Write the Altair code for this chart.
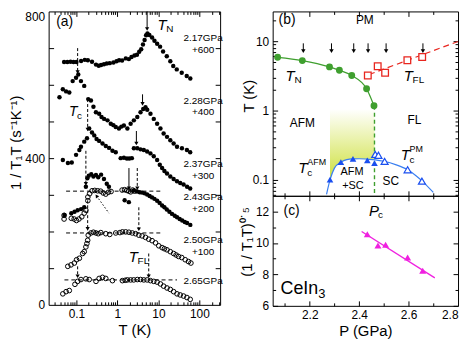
import altair as alt
import pandas as pd

FONT = "Liberation Sans"
GREEN = "#3f9f2f"
RED = "#e8261f"
BLUE = "#1a4ff0"
BLUE_LINE = "#3a7ff0"
MAGENTA = "#f020e0"

# ---------------- panel (a): 1/T1T vs T (offsets included) ----------------
T_217 = [0.05, 0.06, 0.072, 0.085, 0.1, 0.13, 0.16, 0.19, 0.24, 0.3, 0.35, 0.4, 0.47, 0.55, 0.65,
         0.8, 0.95, 1.1, 1.3, 1.6, 1.9, 2.2, 2.6, 3.0, 3.4, 3.8, 4.2, 4.6, 5.0, 5.4,
         6.0, 7.0, 8.0, 9.3, 11, 13, 16, 19.5, 23, 28, 37, 49, 60]
V_217 = [662, 662, 663, 662, 662, 665, 668, 667, 663, 655, 652, 654, 656, 658, 659,
         661, 664, 667, 666, 672, 670, 676, 680, 682, 690, 697, 710, 722, 735, 740,
         736, 729, 720, 712, 704, 691, 678, 664, 651, 642, 633, 624, 617]
T_228 = [0.0386, 0.0466, 0.056, 0.067, 0.081, 0.098, 0.111, 0.129, 0.155, 0.194, 0.226, 0.26, 0.299,
         0.358, 0.41, 0.474, 0.573, 0.689, 0.8, 0.91, 1.09, 1.25, 1.44, 1.75, 2.1, 2.52, 3.05,
         3.66, 4.26, 4.84, 5.33, 6.4, 7.7, 9.3, 11.2, 13.4, 16.2, 19.5, 23.5, 28.4, 37.5, 49.5, 59.6]
V_228 = [566, 588, 582, 579, 610, 619, 628, 610, 597, 561, 557, 540, 525,
         521, 512, 507, 503, 494, 490, 485, 481, 486, 489, 481, 494, 503, 512,
         525, 534, 539, 532, 521, 507, 494, 481, 467, 458, 449, 440, 431, 427, 422, 416]
T_237 = [0.0466, 0.062, 0.077, 0.098, 0.118, 0.129, 0.155, 0.181, 0.205, 0.24, 0.272, 0.31, 0.358,
         0.433, 0.52, 0.626, 0.757, 0.91, 1.2, 1.44, 1.7, 1.95, 2.25, 2.52, 3.05, 3.66, 4.4, 5.3,
         6.4, 7.7, 9.3, 10.8, 12.3, 14, 16.2, 19.5, 23.5, 28.4, 34, 41, 50, 59.6]
V_237 = [395, 387, 388, 409, 422, 431, 445, 454, 481, 470, 462, 452, 447,
         440, 433, 428, 420, 416, 400, 401, 399, 399, 400, 427, 427, 424, 422, 418,
         413, 405, 395, 382, 373, 365, 358, 350, 343, 337, 332, 328, 322, 317]
T_243F = [0.051, 0.075, 0.09, 0.107, 0.13, 0.155, 0.17, 0.185, 0.2, 0.23, 0.26, 0.3, 0.34, 0.4,
          0.47, 0.55, 0.62, 1.5, 1.9, 2.5, 3.0, 3.5, 4.0, 4.6, 5.3, 6.1, 7.0, 8.0, 9.3, 10.7,
          12.3, 14, 16, 18.5, 21.5, 25, 28.5, 33, 38, 44, 50, 60]
V_243F = [245, 250, 254, 258, 261, 266, 322, 345, 352, 356, 350, 354, 348, 355,
          343, 330, 322, 285, 280, 312, 309, 307, 306, 304, 301, 297, 293, 289, 284, 278,
          271, 266, 260, 254, 248, 243, 239, 234, 230, 226, 223, 218]
T_243O = [0.05, 0.05, 0.075, 0.088, 0.1, 0.115, 0.135, 0.155, 0.17, 0.19, 0.19, 0.21, 0.24, 0.28,
          0.33, 0.39, 0.45, 0.52, 0.6, 0.7, 1.3, 1.5, 1.7, 1.9, 2.1, 2.35, 2.6]
V_243O = [234, 244, 236, 234, 230, 234, 240, 250, 258, 284, 294, 303, 311, 312,
          311, 310, 305, 302, 307, 309, 313, 314, 312, 310, 308, 313, 310]
T_250 = [0.0616, 0.0738, 0.089, 0.101, 0.118, 0.142, 0.155, 0.17, 0.18, 0.188, 0.194, 0.226, 0.26,
         0.3, 0.34, 0.394, 0.52, 0.65, 0.91, 1.15, 1.32, 1.59, 1.91, 2.3, 2.77, 3.33, 4.0, 4.84,
         5.8, 7.0, 8.5, 10.2, 12.3, 14, 16.2, 19.5, 23.5, 27, 31, 37, 45, 54, 62]
V_250 = [105, 109, 114, 123, 127, 140, 145, 158, 167, 176, 190, 196, 198,
         196, 194, 197, 194, 192, 196, 197, 199, 199, 198, 196, 194, 190, 188, 184,
         179, 175, 169, 161, 156, 153, 150, 145, 140, 136, 132, 129, 123, 118, 114]
T_265 = [0.0466, 0.056, 0.067, 0.092, 0.107, 0.129, 0.17, 0.205, 0.3, 0.358, 0.433, 0.52, 0.757,
         1.32, 1.55, 1.75, 2.1, 2.5, 3.05, 3.66, 4.4, 5.3, 6.4, 7.7, 9.3, 11.2, 13.4, 16.2,
         19.5, 23.5, 28.4, 34, 41, 49.5, 59.6]
V_265 = [30, 36, 39, 56, 64, 69, 71, 69, 64, 72, 75, 72, 66,
         66, 67, 68, 68, 68, 69, 69, 68, 68, 66, 64, 62, 57, 51, 46,
         42, 36, 30, 27, 24, 20, 15]

HL_T1 = [0.056, 0.056, 0.051]
HL_T2 = [11.2, 11.2, 28.4]
HL_V = [310, 196, 68]
AS_T = [5.3, 4.1, 2.9, 1.91]
AS_V1 = [800, 574, 474, 373]
AS_V2 = [752, 548, 440, 318]
AD_T = [3.05, 3.33, 5.8, 0.107, 0.188, 0.17, 0.188, 0.107]
AD_V1 = [373, 266, 140, 700, 561, 420, 285, 105]
AD_V2 = [318, 206, 78, 635, 478, 330, 207, 78]
DOT_T = [0.62, 0.31]
DOT_V = [250, 297]

GPA_LABELS = ["2.17GPa", "+600", "2.28GPa", "+400", "2.37GPa", "+300",
              "2.43GPa", "+200", "2.50GPa", "+100", "2.65GPa"]
GPA_V = [728, 695, 556, 526, 383, 351, 293, 261, 177, 145, 64]
GPA_T = 123

# ---------------- panel (b): phase diagram ----------------
TN_P = [2.07, 2.17, 2.28, 2.32, 2.37, 2.43, 2.46]
TN_T = [5.85, 5.25, 4.25, 3.8, 3.2, 2.06, 1.17]
TFL_P = [2.435, 2.475, 2.505, 2.595, 2.655]
TFL_T = [3.2, 4.35, 3.5, 5.3, 5.9]
TFL_FIT_P = [2.44, 2.80]
TFL_FIT_T = [3.3, 9.9]
TCA_P = [2.282, 2.326, 2.375, 2.433, 2.462]
TCA_T = [0.101, 0.181, 0.201, 0.191, 0.175]
TCP_P = [2.465, 2.478, 2.503, 2.596, 2.654]
TCP_T = [0.233, 0.226, 0.185, 0.140, 0.096]
DOME_P = [2.268, 2.282, 2.30, 2.326, 2.35, 2.375, 2.40, 2.433, 2.465, 2.50, 2.55, 2.596, 2.63, 2.654, 2.70]
DOME_T = [0.062, 0.10, 0.148, 0.18, 0.196, 0.201, 0.202, 0.199, 0.195, 0.186, 0.165, 0.14, 0.115, 0.097, 0.066]
SHADE_P = [2.282, 2.30, 2.326, 2.35, 2.375, 2.40, 2.433, 2.462]
SHADE_LO = [0.10, 0.148, 0.18, 0.196, 0.201, 0.202, 0.199, 0.196]
SHADE_HI = [1.05, 1.05, 1.05, 1.05, 1.05, 1.05, 1.05, 1.05]
PC = [2.462]
ARROW_P = [2.174, 2.288, 2.378, 2.436, 2.509, 2.658]
ARROW_T1 = [9.3, 9.3, 9.3, 9.3, 9.3, 9.3]
ARROW_T2 = [7.2, 7.2, 7.2, 7.2, 7.2, 7.2]

# ---------------- panel (c) ----------------
C_P = [2.433, 2.476, 2.507, 2.596, 2.657]
C_V = [10.56, 9.84, 9.89, 9.08, 8.23]
C_FIT_P = [2.41, 2.706]
C_FIT_V = [10.73, 7.78]

# tick values
A_XLAB = [0.1, 1, 10, 100]
A_XMIN = [0.03, 0.04, 0.05, 0.06, 0.07, 0.08, 0.09, 0.2, 0.3, 0.4, 0.5, 0.6, 0.7, 0.8, 0.9,
          2, 3, 4, 5, 6, 7, 8, 9, 20, 30, 40, 50, 60, 70, 80, 90, 200, 300]
A_YLAB = [0, 400, 800]
A_YT = [100, 200, 300, 400, 500, 600, 700]
B_YLAB = [0.1, 1, 10]
B_YMIN = [0.06, 0.07, 0.08, 0.09, 0.2, 0.3, 0.4, 0.5, 0.6, 0.7, 0.8, 0.9,
          2, 3, 4, 5, 6, 7, 8, 9, 20]
P_LAB = [2.2, 2.4, 2.6, 2.8]
P_MAJ = [2.2, 2.4, 2.6]
P_MIN = [2.1, 2.3, 2.5, 2.7]
C_YLAB = [6, 8, 10, 12]
C_YMIN = [7, 9, 11]

WA, HA = 173, 296
WB, HB, HC = 187, 186, 111

XA = alt.Scale(type="log", domain=[0.021, 320], nice=False)
YA = alt.Scale(domain=[0, 800], nice=False, zero=False)
XP = alt.Scale(domain=[2.05, 2.8], nice=False, zero=False)
YB = alt.Scale(type="log", domain=[0.059, 26.8], nice=False)
YC = alt.Scale(domain=[6, 13], nice=False, zero=False)


def xy(xs, ys):
    return dict(x=alt.X("x:Q", scale=xs, axis=None), y=alt.Y("y:Q", scale=ys, axis=None))


def points(x, y, xs, ys, **kw):
    return alt.Chart(pd.DataFrame({"x": x, "y": y})).mark_point(opacity=1, **kw).encode(**xy(xs, ys))


def line(x, y, xs, ys, **kw):
    return alt.Chart(pd.DataFrame({"x": x, "y": y})).mark_line(**kw).encode(**xy(xs, ys))


def vrules(x, y1, y2, xs, ys, **kw):
    df = pd.DataFrame({"x": x, "y": y1, "y2": y2})
    return alt.Chart(df).mark_rule(**kw).encode(y2="y2:Q", **xy(xs, ys))


def hrules(x1, x2, y, xs, ys, **kw):
    df = pd.DataFrame({"x": x1, "x2": x2, "y": y})
    return alt.Chart(df).mark_rule(**kw).encode(x2="x2:Q", **xy(xs, ys))


def txt(x, y, s, xs, ys, size=12, style="normal", align="center", dx=0, dy=0, color="black"):
    df = pd.DataFrame({"x": [x], "y": [y], "t": [s]})
    return alt.Chart(df).mark_text(font=FONT, fontSize=size, fontStyle=style, align=align,
                                   baseline="middle", dx=dx, dy=dy, color=color).encode(
        text="t:N", **xy(xs, ys))


def lab_axis(orient, values, fmt, title=None, **kw):
    return alt.Axis(orient=orient, values=values, format=fmt, ticks=False, domain=False, grid=False,
                    labelFont=FONT, labelFontSize=12, labelColor="black", labelPadding=4,
                    title=title, titleFont=FONT, titleFontSize=15, titleFontWeight="normal",
                    titleColor="black", titleBaseline="middle", **kw)


def tick_axis(orient, values, size):
    return alt.Axis(orient=orient, values=values, labels=False, domain=False, grid=False,
                    tickSize=alt.ExprRef(expr=str(-size)), tickColor="black", tickWidth=1,
                    title=None)


def axis_layers(xs, ys, x0, y0, xaxes, yaxes):
    n = max(len(xaxes), len(yaxes))
    xaxes = xaxes + [None] * (n - len(xaxes))
    yaxes = yaxes + [None] * (n - len(yaxes))
    out = []
    for xa, ya in zip(xaxes, yaxes):
        df = pd.DataFrame({"x": [x0], "y": [y0]})
        out.append(alt.Chart(df).mark_point(opacity=0).encode(
            x=alt.X("x:Q", scale=xs, axis=xa), y=alt.Y("y:Q", scale=ys, axis=ya)))
    return out


# ---------------- build (a) ----------------
a_layers = axis_layers(
    XA, YA, 1, 100,
    [lab_axis("bottom", A_XLAB, "~g", "T (K)", titleY=25),
     tick_axis("bottom", A_XLAB, 5), tick_axis("bottom", A_XMIN, 3),
     tick_axis("top", A_XLAB, 5), tick_axis("top", A_XMIN, 3)],
    [lab_axis("left", A_YLAB, "d", "1 / T\u2081T (s\u207b\u00b9K\u207b\u00b9)", titleX=-33, titleY=132,
              labelBaseline={"condition": {"test": "datum.value == 800", "value": "top"}, "value": "middle"}),
     tick_axis("left", A_YT, 5), tick_axis("right", A_YT, 5)],
)
a_layers += [
    hrules(HL_T1, HL_T2, HL_V, XA, YA, color="black", strokeWidth=1, strokeDash=[4, 3]),
    vrules(AS_T, AS_V1, AS_V2, XA, YA, color="black", strokeWidth=1),
    vrules(AD_T, AD_V1, AD_V2, XA, YA, color="black", strokeWidth=1, strokeDash=[3, 2]),
    points(AS_T + AD_T, AS_V2 + AD_V2, XA, YA, shape="triangle-down", filled=True, size=18, color="black"),
    line(DOT_T, DOT_V, XA, YA, color="black", strokeWidth=1, strokeDash=[1.5, 2]),
    points(DOT_T[1:], DOT_V[1:], XA, YA, shape="triangle-up", angle=325, filled=True, size=16, color="black"),
    points(T_217, V_217, XA, YA, shape="circle", filled=True, size=20, color="black"),
    points(T_228, V_228, XA, YA, shape="circle", filled=True, size=20, color="black"),
    points(T_237, V_237, XA, YA, shape="circle", filled=True, size=20, color="black"),
    points(T_243F, V_243F, XA, YA, shape="circle", filled=True, size=20, color="black"),
    points(T_243O, V_243O, XA, YA, shape="circle", filled=False, size=22, color="black", strokeWidth=1),
    points(T_250, V_250, XA, YA, shape="circle", filled=False, size=22, color="black", strokeWidth=1),
    points(T_265, V_265, XA, YA, shape="circle", filled=False, size=22, color="black", strokeWidth=1),
    txt(0.032, 771, "(a)", XA, YA, size=14, align="left"),
    txt(9.46, 762, "T", XA, YA, size=15, style="italic", align="left"),
    txt(9.46, 762, "N", XA, YA, size=10, align="left", dx=9, dy=4),
    txt(0.0662, 526, "T", XA, YA, size=14, style="italic", align="left"),
    txt(0.0662, 526, "c", XA, YA, size=10, align="left", dx=8, dy=4),
    txt(1.88, 129, "T", XA, YA, size=15, style="italic", align="left"),
    txt(1.88, 129, "FL", XA, YA, size=10, align="left", dx=9, dy=4),
]
for lab, v in zip(GPA_LABELS, GPA_V):
    a_layers.append(txt(GPA_T, v, lab, XA, YA, size=10))

A = alt.layer(*a_layers).properties(width=WA, height=HA).resolve_axis(x="independent", y="independent")

# ---------------- build (b) ----------------
grad = alt.LinearGradient(gradient="linear", x1=0, x2=0, y1=0, y2=1,
                          stops=[alt.GradientStop(color="#ffffff", offset=0),
                                 alt.GradientStop(color="#cde03a", offset=1)])
b_layers = axis_layers(
    XP, YB, 2.5, 1,
    [tick_axis("bottom", P_MAJ, 5), tick_axis("bottom", P_MIN, 3),
     tick_axis("top", P_MAJ, 5), tick_axis("top", P_MIN, 3)],
    [lab_axis("left", B_YLAB, "~g", "T (K)", titleX=-24, titleY=85),
     tick_axis("left", B_YLAB, 5), tick_axis("left", B_YMIN, 3),
     tick_axis("right", B_YLAB, 5), tick_axis("right", B_YMIN, 3)],
)
shade_df = pd.DataFrame({"x": SHADE_P, "y": SHADE_LO, "y2": SHADE_HI})
b_layers += [
    alt.Chart(shade_df).mark_area(interpolate="monotone", color=grad, opacity=1).encode(
        y2="y2:Q", **xy(XP, YB)),
    line(DOME_P, DOME_T, XP, YB, color=BLUE_LINE, strokeWidth=1.2, interpolate="monotone"),
    line(TN_P, TN_T, XP, YB, color=GREEN, strokeWidth=1.3, interpolate="monotone"),
    vrules(PC, TN_T[-1:], [0.059], XP, YB, color=GREEN, strokeWidth=1.4, strokeDash=[4, 3]),
    line(TFL_FIT_P, TFL_FIT_T, XP, YB, color=RED, strokeWidth=1.2, strokeDash=[6, 4]),
    points(TN_P, TN_T, XP, YB, shape="circle", filled=True, size=48, color=GREEN),
    points(TFL_P, TFL_T, XP, YB, shape="square", filled=True, fill="white", stroke=RED,
           strokeWidth=1.3, size=45),
    points(TCA_P, TCA_T, XP, YB, shape="triangle-up", filled=True, size=45, color=BLUE),
    points(TCP_P, TCP_T, XP, YB, shape="triangle-up", filled=True, fill="white", stroke=BLUE,
           strokeWidth=1.2, size=50),
    vrules(ARROW_P, ARROW_T1, ARROW_T2, XP, YB, color="black", strokeWidth=1),
    points(ARROW_P, ARROW_T2, XP, YB, shape="triangle-down", filled=True, size=20, color="black"),
    txt(2.074, 20, "(b)", XP, YB, size=14, align="left"),
    txt(2.423, 20, "PM", XP, YB, size=12),
    txt(2.102, 3.16, "T", XP, YB, size=15, style="italic", align="left"),
    txt(2.102, 3.16, "N", XP, YB, size=10, align="left", dx=9, dy=4),
    txt(2.580, 3.16, "T", XP, YB, size=15, style="italic", align="left"),
    txt(2.580, 3.16, "FL", XP, YB, size=10, align="left", dx=9, dy=4),
    txt(2.170, 0.65, "AFM", XP, YB, size=12),
    txt(2.624, 0.74, "FL", XP, YB, size=12),
    txt(2.154, 0.148, "T", XP, YB, size=15, style="italic", align="left"),
    txt(2.154, 0.148, "c", XP, YB, size=10, align="left", dx=9, dy=5),
    txt(2.154, 0.148, "AFM", XP, YB, size=9, align="left", dx=9, dy=-6),
    txt(2.568, 0.227, "T", XP, YB, size=15, style="italic", align="left"),
    txt(2.568, 0.227, "c", XP, YB, size=10, align="left", dx=9, dy=5),
    txt(2.568, 0.227, "PM", XP, YB, size=9, align="left", dx=9, dy=-6),
    txt(2.371, 0.13, "AFM", XP, YB, size=11),
    txt(2.375, 0.083, "+SC", XP, YB, size=11),
    txt(2.528, 0.0968, "SC", XP, YB, size=12),
]
B = alt.layer(*b_layers).properties(width=WB, height=HB).resolve_axis(x="independent", y="independent")

# ---------------- build (c) ----------------
c_layers = axis_layers(
    XP, YC, 2.5, 10,
    [lab_axis("bottom", P_LAB, ".1f", "P (GPa)", titleY=25),
     tick_axis("bottom", P_MAJ, 5), tick_axis("bottom", P_MIN, 3),
     tick_axis("top", P_MAJ, 5), tick_axis("top", P_MIN, 3)],
    [lab_axis("left", C_YLAB, "d", "(1 / T\u2081T)\u2070\u02d9\u2075", titleX=-26, titleY=46),
     tick_axis("left", C_YLAB, 5), tick_axis("left", C_YMIN, 3),
     tick_axis("right", C_YLAB, 5), tick_axis("right", C_YMIN, 3)],
)
c_layers += [
    line(C_FIT_P, C_FIT_V, XP, YC, color=MAGENTA, strokeWidth=1.3),
    points(C_P, C_V, XP, YC, shape="triangle-up", filled=True, size=50, color=MAGENTA),
    txt(2.094, 12, "(c)", XP, YC, size=14, align="left"),
    txt(2.440, 12, "P", XP, YC, size=15, style="italic", align="left"),
    txt(2.440, 12, "c", XP, YC, size=10, align="left", dx=9, dy=4),
    txt(2.082, 7.05, "CeIn", XP, YC, size=18, align="left"),
    txt(2.082, 7.05, "3", XP, YC, size=13, align="left", dx=38, dy=5),
]
C = alt.layer(*c_layers).properties(width=WB, height=HC).resolve_axis(x="independent", y="independent")

chart = alt.hconcat(
    A,
    alt.vconcat(B, C, spacing=0, bounds="flush"),
    spacing=53, bounds="flush",
).properties(
    padding={"left": 0, "right": 0, "top": 0, "bottom": 0}
).configure_view(stroke="black", strokeWidth=1)

chart.save("out.html", embed_options={"renderer": "svg", "actions": False})
